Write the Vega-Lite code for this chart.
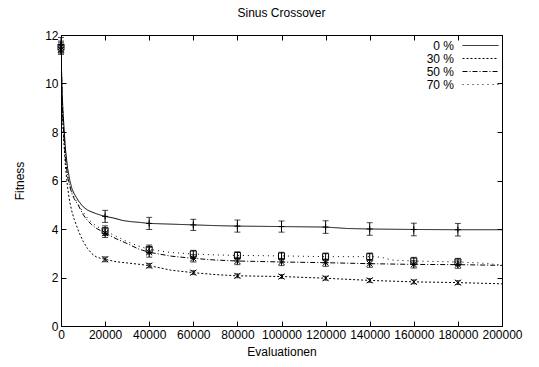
{
  "$schema": "https://vega.github.io/schema/vega-lite/v6.json",
  "width": 441,
  "height": 291,
  "autosize": {"type": "none"},
  "padding": {"left": 61, "top": 35, "right": 37, "bottom": 41},
  "background": "white",
  "title": {"text": "Sinus Crossover", "font": "Liberation Sans", "fontSize": 12, "fontWeight": "normal", "color": "black", "offset": 9},
  "config": {
    "view": {"stroke": "black", "strokeWidth": 1},
    "axis": {"grid": false, "labelFont": "Liberation Sans", "labelFontSize": 12, "labelColor": "black", "titleFont": "Liberation Sans", "titleFontSize": 12, "titleFontWeight": "normal", "titleColor": "black", "domainColor": "black", "tickColor": "black", "tickSize": -5, "labelPadding": 8, "labelOverlap": false, "labelFlush": false},
    "legend": {"labelFont": "Liberation Sans", "labelFontSize": 12, "labelColor": "black"}
  },
  "datasets": {
    "lines": [
      {"s": "0 %", "x": 0, "y": 11.5}, {"s": "0 %", "x": 500, "y": 9.6}, {"s": "0 %", "x": 1000, "y": 8.7}, {"s": "0 %", "x": 2000, "y": 7.3}, {"s": "0 %", "x": 3000, "y": 6.5}, {"s": "0 %", "x": 4000, "y": 6.0}, {"s": "0 %", "x": 5000, "y": 5.65}, {"s": "0 %", "x": 6000, "y": 5.45}, {"s": "0 %", "x": 7000, "y": 5.3}, {"s": "0 %", "x": 8000, "y": 5.15}, {"s": "0 %", "x": 10000, "y": 4.92}, {"s": "0 %", "x": 12000, "y": 4.78}, {"s": "0 %", "x": 14000, "y": 4.7}, {"s": "0 %", "x": 16000, "y": 4.63}, {"s": "0 %", "x": 18000, "y": 4.57}, {"s": "0 %", "x": 20000, "y": 4.52}, {"s": "0 %", "x": 24000, "y": 4.45}, {"s": "0 %", "x": 28000, "y": 4.35}, {"s": "0 %", "x": 32000, "y": 4.3}, {"s": "0 %", "x": 36000, "y": 4.27}, {"s": "0 %", "x": 40000, "y": 4.23}, {"s": "0 %", "x": 50000, "y": 4.2}, {"s": "0 %", "x": 60000, "y": 4.17}, {"s": "0 %", "x": 70000, "y": 4.14}, {"s": "0 %", "x": 80000, "y": 4.12}, {"s": "0 %", "x": 90000, "y": 4.11}, {"s": "0 %", "x": 100000, "y": 4.1}, {"s": "0 %", "x": 110000, "y": 4.09}, {"s": "0 %", "x": 120000, "y": 4.08}, {"s": "0 %", "x": 125000, "y": 4.05}, {"s": "0 %", "x": 130000, "y": 4.02}, {"s": "0 %", "x": 140000, "y": 4.0}, {"s": "0 %", "x": 160000, "y": 3.98}, {"s": "0 %", "x": 180000, "y": 3.97}, {"s": "0 %", "x": 200000, "y": 3.97},
      {"s": "30 %", "x": 0, "y": 11.5}, {"s": "30 %", "x": 500, "y": 9.0}, {"s": "30 %", "x": 1000, "y": 8.0}, {"s": "30 %", "x": 2000, "y": 6.6}, {"s": "30 %", "x": 3000, "y": 5.7}, {"s": "30 %", "x": 4000, "y": 5.1}, {"s": "30 %", "x": 5000, "y": 4.7}, {"s": "30 %", "x": 6000, "y": 4.4}, {"s": "30 %", "x": 7000, "y": 4.15}, {"s": "30 %", "x": 8000, "y": 3.9}, {"s": "30 %", "x": 10000, "y": 3.5}, {"s": "30 %", "x": 12000, "y": 3.2}, {"s": "30 %", "x": 14000, "y": 2.98}, {"s": "30 %", "x": 16000, "y": 2.85}, {"s": "30 %", "x": 18000, "y": 2.79}, {"s": "30 %", "x": 20000, "y": 2.75}, {"s": "30 %", "x": 25000, "y": 2.65}, {"s": "30 %", "x": 30000, "y": 2.6}, {"s": "30 %", "x": 35000, "y": 2.55}, {"s": "30 %", "x": 40000, "y": 2.49}, {"s": "30 %", "x": 50000, "y": 2.3}, {"s": "30 %", "x": 60000, "y": 2.2}, {"s": "30 %", "x": 70000, "y": 2.12}, {"s": "30 %", "x": 80000, "y": 2.07}, {"s": "30 %", "x": 100000, "y": 2.04}, {"s": "30 %", "x": 120000, "y": 1.97}, {"s": "30 %", "x": 140000, "y": 1.88}, {"s": "30 %", "x": 160000, "y": 1.82}, {"s": "30 %", "x": 180000, "y": 1.79}, {"s": "30 %", "x": 200000, "y": 1.74},
      {"s": "50 %", "x": 0, "y": 11.5}, {"s": "50 %", "x": 500, "y": 9.3}, {"s": "50 %", "x": 1000, "y": 8.3}, {"s": "50 %", "x": 2000, "y": 6.9}, {"s": "50 %", "x": 3000, "y": 6.15}, {"s": "50 %", "x": 4000, "y": 5.75}, {"s": "50 %", "x": 5000, "y": 5.45}, {"s": "50 %", "x": 6000, "y": 5.25}, {"s": "50 %", "x": 7000, "y": 5.1}, {"s": "50 %", "x": 8000, "y": 4.95}, {"s": "50 %", "x": 10000, "y": 4.6}, {"s": "50 %", "x": 12000, "y": 4.35}, {"s": "50 %", "x": 14000, "y": 4.17}, {"s": "50 %", "x": 16000, "y": 4.03}, {"s": "50 %", "x": 18000, "y": 3.93}, {"s": "50 %", "x": 20000, "y": 3.83}, {"s": "50 %", "x": 25000, "y": 3.6}, {"s": "50 %", "x": 30000, "y": 3.4}, {"s": "50 %", "x": 35000, "y": 3.18}, {"s": "50 %", "x": 40000, "y": 3.04}, {"s": "50 %", "x": 50000, "y": 2.88}, {"s": "50 %", "x": 60000, "y": 2.79}, {"s": "50 %", "x": 70000, "y": 2.72}, {"s": "50 %", "x": 80000, "y": 2.68}, {"s": "50 %", "x": 100000, "y": 2.64}, {"s": "50 %", "x": 120000, "y": 2.61}, {"s": "50 %", "x": 140000, "y": 2.57}, {"s": "50 %", "x": 160000, "y": 2.54}, {"s": "50 %", "x": 180000, "y": 2.53}, {"s": "50 %", "x": 200000, "y": 2.5},
      {"s": "70 %", "x": 0, "y": 11.5}, {"s": "70 %", "x": 500, "y": 9.4}, {"s": "70 %", "x": 1000, "y": 8.4}, {"s": "70 %", "x": 2000, "y": 7.0}, {"s": "70 %", "x": 3000, "y": 6.2}, {"s": "70 %", "x": 4000, "y": 5.8}, {"s": "70 %", "x": 5000, "y": 5.5}, {"s": "70 %", "x": 6000, "y": 5.3}, {"s": "70 %", "x": 7000, "y": 5.15}, {"s": "70 %", "x": 8000, "y": 5.0}, {"s": "70 %", "x": 10000, "y": 4.7}, {"s": "70 %", "x": 12000, "y": 4.45}, {"s": "70 %", "x": 14000, "y": 4.27}, {"s": "70 %", "x": 16000, "y": 4.12}, {"s": "70 %", "x": 18000, "y": 4.02}, {"s": "70 %", "x": 20000, "y": 3.93}, {"s": "70 %", "x": 25000, "y": 3.7}, {"s": "70 %", "x": 30000, "y": 3.48}, {"s": "70 %", "x": 35000, "y": 3.3}, {"s": "70 %", "x": 40000, "y": 3.16}, {"s": "70 %", "x": 50000, "y": 3.03}, {"s": "70 %", "x": 60000, "y": 2.97}, {"s": "70 %", "x": 70000, "y": 2.93}, {"s": "70 %", "x": 80000, "y": 2.91}, {"s": "70 %", "x": 90000, "y": 2.9}, {"s": "70 %", "x": 100000, "y": 2.89}, {"s": "70 %", "x": 120000, "y": 2.86}, {"s": "70 %", "x": 140000, "y": 2.86}, {"s": "70 %", "x": 145000, "y": 2.84}, {"s": "70 %", "x": 150000, "y": 2.72}, {"s": "70 %", "x": 160000, "y": 2.68}, {"s": "70 %", "x": 180000, "y": 2.64}, {"s": "70 %", "x": 190000, "y": 2.6}, {"s": "70 %", "x": 200000, "y": 2.52}
    ],
    "pts": [
      {"g": "p0", "x": 0, "y": 11.6, "lo": 11.3, "hi": 11.9}, {"g": "p0", "x": 20000, "y": 4.52, "lo": 4.27, "hi": 4.77}, {"g": "p0", "x": 40000, "y": 4.23, "lo": 3.98, "hi": 4.48}, {"g": "p0", "x": 60000, "y": 4.17, "lo": 3.94, "hi": 4.4}, {"g": "p0", "x": 80000, "y": 4.12, "lo": 3.87, "hi": 4.37}, {"g": "p0", "x": 100000, "y": 4.1, "lo": 3.87, "hi": 4.33}, {"g": "p0", "x": 120000, "y": 4.08, "lo": 3.82, "hi": 4.34}, {"g": "p0", "x": 140000, "y": 4.0, "lo": 3.74, "hi": 4.26}, {"g": "p0", "x": 160000, "y": 3.98, "lo": 3.72, "hi": 4.24}, {"g": "p0", "x": 180000, "y": 3.97, "lo": 3.71, "hi": 4.23},
      {"g": "p30", "x": 0, "y": 11.4, "lo": 11.2, "hi": 11.6}, {"g": "p30", "x": 20000, "y": 2.75, "lo": 2.65, "hi": 2.85}, {"g": "p30", "x": 40000, "y": 2.49, "lo": 2.4, "hi": 2.58}, {"g": "p30", "x": 60000, "y": 2.2, "lo": 2.12, "hi": 2.28}, {"g": "p30", "x": 80000, "y": 2.07, "lo": 1.99, "hi": 2.15}, {"g": "p30", "x": 100000, "y": 2.04, "lo": 1.96, "hi": 2.12}, {"g": "p30", "x": 120000, "y": 1.97, "lo": 1.89, "hi": 2.05}, {"g": "p30", "x": 140000, "y": 1.88, "lo": 1.8, "hi": 1.96}, {"g": "p30", "x": 160000, "y": 1.82, "lo": 1.74, "hi": 1.9}, {"g": "p30", "x": 180000, "y": 1.79, "lo": 1.71, "hi": 1.87},
      {"g": "p50", "x": 0, "y": 11.5, "lo": 11.25, "hi": 11.75}, {"g": "p50", "x": 20000, "y": 3.83, "lo": 3.65, "hi": 4.01}, {"g": "p50", "x": 40000, "y": 3.04, "lo": 2.84, "hi": 3.24}, {"g": "p50", "x": 60000, "y": 2.79, "lo": 2.64, "hi": 2.94}, {"g": "p50", "x": 80000, "y": 2.68, "lo": 2.53, "hi": 2.83}, {"g": "p50", "x": 100000, "y": 2.64, "lo": 2.49, "hi": 2.79}, {"g": "p50", "x": 120000, "y": 2.61, "lo": 2.46, "hi": 2.76}, {"g": "p50", "x": 140000, "y": 2.57, "lo": 2.42, "hi": 2.72}, {"g": "p50", "x": 160000, "y": 2.54, "lo": 2.39, "hi": 2.69}, {"g": "p50", "x": 180000, "y": 2.53, "lo": 2.38, "hi": 2.68},
      {"g": "p70", "x": 0, "y": 11.5, "lo": 11.3, "hi": 11.7}, {"g": "p70", "x": 20000, "y": 3.93, "lo": 3.73, "hi": 4.13}, {"g": "p70", "x": 40000, "y": 3.16, "lo": 2.98, "hi": 3.34}, {"g": "p70", "x": 60000, "y": 2.97, "lo": 2.82, "hi": 3.12}, {"g": "p70", "x": 80000, "y": 2.91, "lo": 2.76, "hi": 3.06}, {"g": "p70", "x": 100000, "y": 2.89, "lo": 2.74, "hi": 3.04}, {"g": "p70", "x": 120000, "y": 2.86, "lo": 2.71, "hi": 3.01}, {"g": "p70", "x": 140000, "y": 2.86, "lo": 2.71, "hi": 3.01}, {"g": "p70", "x": 160000, "y": 2.68, "lo": 2.53, "hi": 2.83}, {"g": "p70", "x": 180000, "y": 2.64, "lo": 2.49, "hi": 2.79}
    ]
  },
  "layer": [
    {
      "layer": [
        {
          "data": {"name": "lines"},
          "mark": {"type": "line", "color": "black", "strokeWidth": 1, "clip": true},
          "encoding": {
            "x": {"field": "x", "type": "quantitative", "scale": {"domain": [0, 200000], "nice": false, "zero": false}, "axis": {"title": "Evaluationen", "titleColor": "black", "values": [0, 20000, 40000, 60000, 80000, 100000, 120000, 140000, 160000, 180000, 200000], "format": "d", "titlePadding": 6}},
            "y": {"field": "y", "type": "quantitative", "scale": {"domain": [0, 12], "nice": false}, "axis": {"title": "Fitness", "titleColor": "black", "values": [0, 2, 4, 6, 8, 10, 12], "titlePadding": 18}},
            "strokeDash": {"field": "s", "type": "nominal", "scale": {"domain": ["0 %", "30 %", "50 %", "70 %"], "range": [[1, 0], [2, 2], [5, 2, 1, 2], [1, 4]]},
              "legend": {"title": null, "orient": "none", "legendX": 413, "legendY": 4, "symbolType": "M-3,0L3,0", "symbolSize": 144, "symbolStrokeWidth": 1, "symbolStrokeColor": "black", "labelAlign": "right", "labelOffset": -33, "padding": 0, "rowPadding": -1}},
            "detail": {"field": "s"}
          }
        },
        {
          "data": {"name": "pts"},
          "mark": {"type": "rule", "color": "black", "strokeWidth": 1},
          "encoding": {
            "x": {"field": "x", "type": "quantitative"},
            "y": {"field": "lo", "type": "quantitative"},
            "y2": {"field": "hi"}
          }
        },
        {
          "data": {"name": "pts"},
          "mark": {"type": "tick", "orient": "horizontal", "color": "black", "size": 6, "thickness": 1},
          "encoding": {
            "x": {"field": "x", "type": "quantitative"},
            "y": {"field": "lo", "type": "quantitative"}
          }
        },
        {
          "data": {"name": "pts"},
          "mark": {"type": "tick", "orient": "horizontal", "color": "black", "size": 6, "thickness": 1},
          "encoding": {
            "x": {"field": "x", "type": "quantitative"},
            "y": {"field": "hi", "type": "quantitative"}
          }
        },
        {
          "data": {"name": "pts"},
          "mark": {"type": "point", "filled": false, "color": "black", "strokeWidth": 1, "size": 36, "opacity": 1},
          "encoding": {
            "x": {"field": "x", "type": "quantitative"},
            "y": {"field": "y", "type": "quantitative"},
            "shape": {"field": "g", "type": "nominal", "scale": {"domain": ["p0", "p30", "p50", "p70"], "range": ["M-1,0L1,0M0,-1L0,1", "M-1,-1L1,1M-1,1L1,-1", "M-1,0L1,0M0,-1L0,1M-1,-1L1,1M-1,1L1,-1", "square"]}, "legend": null}
          }
        }
      ]
    },
    {
      "data": {"name": "pts"},
      "mark": {"type": "point", "opacity": 0},
      "encoding": {
        "x": {"field": "x", "type": "quantitative", "scale": {"domain": [0, 200000], "nice": false, "zero": false}, "axis": {"orient": "top", "title": null, "labels": false, "values": [0, 20000, 40000, 60000, 80000, 100000, 120000, 140000, 160000, 180000, 200000]}},
        "y": {"field": "y", "type": "quantitative", "scale": {"domain": [0, 12], "nice": false}, "axis": {"orient": "right", "title": null, "labels": false, "values": [0, 2, 4, 6, 8, 10, 12]}}
      }
    }
  ],
  "resolve": {"scale": {"x": "independent", "y": "independent"}}
}
